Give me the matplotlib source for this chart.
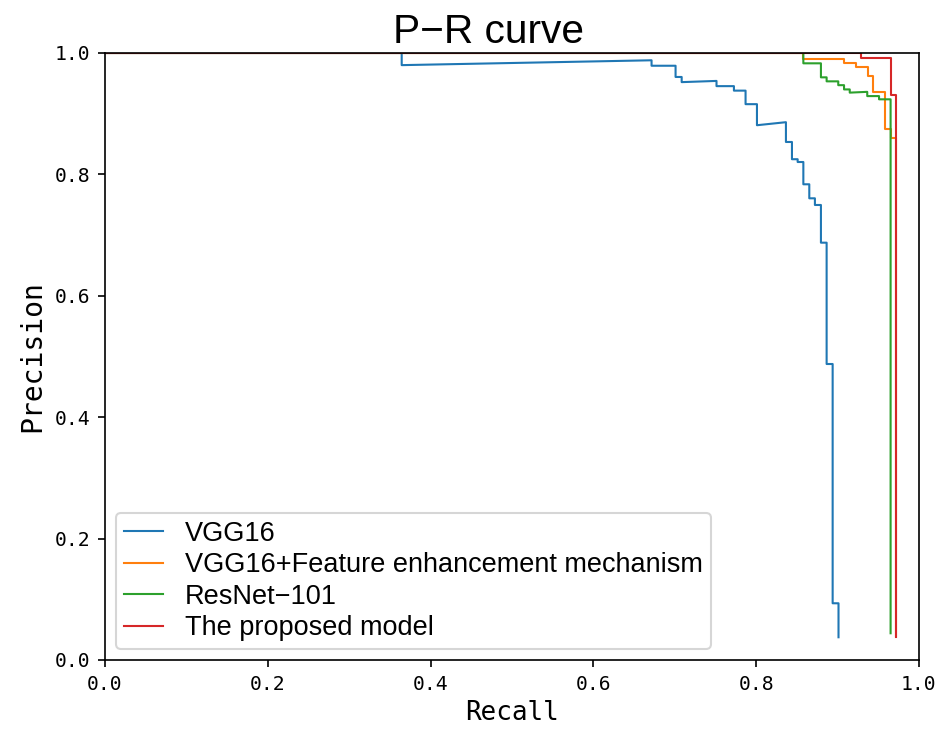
import matplotlib
matplotlib.use("Agg")
import matplotlib.pyplot as plt

# P-R curve points (recall, precision)
vgg_recall = [0.0, 0.3645, 0.3645, 0.6715, 0.6715, 0.701, 0.701, 0.7085, 0.7085,
              0.7513, 0.7513, 0.7727, 0.7727, 0.787, 0.787, 0.801, 0.801, 0.8366,
              0.8366, 0.844, 0.844, 0.851, 0.851, 0.858, 0.858, 0.8653, 0.8653,
              0.8722, 0.8722, 0.8796, 0.8796, 0.8866, 0.8866, 0.894, 0.894, 0.9012, 0.9012]
vgg_precision = [1.0, 1.0, 0.980, 0.988, 0.979, 0.979, 0.9605, 0.9605, 0.952,
                 0.954, 0.9454, 0.9454, 0.938, 0.938, 0.9157, 0.9157, 0.881, 0.886,
                 0.8534, 0.8534, 0.825, 0.825, 0.8204, 0.8204, 0.7837, 0.7837, 0.7606,
                 0.7606, 0.7496, 0.7496, 0.6875, 0.6875, 0.4876, 0.4876, 0.0934, 0.0934, 0.0374]

fem_recall = [0.0, 0.858, 0.858, 0.9079, 0.9079, 0.9226, 0.9226, 0.9369, 0.9369,
              0.9439, 0.9439, 0.9586, 0.9586, 0.9652, 0.9652, 0.972, 0.972]
fem_precision = [1.0, 1.0, 0.9907, 0.9907, 0.983, 0.983, 0.9764, 0.9764, 0.9626,
                 0.9626, 0.9352, 0.9352, 0.8748, 0.8748, 0.8594, 0.8594, 0.04]

res_recall = [0.0, 0.858, 0.858, 0.8796, 0.8796, 0.8866, 0.8866, 0.9009, 0.9009,
              0.908, 0.908, 0.915, 0.915, 0.9365, 0.9365, 0.951, 0.951, 0.9652, 0.9652]
res_precision = [1.0, 1.0, 0.983, 0.983, 0.9599, 0.9599, 0.9533, 0.9533, 0.947,
                 0.947, 0.940, 0.940, 0.9347, 0.936, 0.929, 0.929, 0.9237, 0.9237, 0.044]

ours_recall = [0.0, 0.9294, 0.9294, 0.9652, 0.9652, 0.972, 0.972]
ours_precision = [1.0, 1.0, 0.9913, 0.9913, 0.9308, 0.9308, 0.0384]

LABELS = ['VGG16', 'VGG16+Feature enhancement mechanism', 'ResNet\u2212101', 'The proposed model']

mono = 'DejaVu Sans Mono'
sans = 'Liberation Sans'

fig = plt.figure(figsize=(6.28, 4.86), dpi=150)
ax = fig.add_axes([0.1115, 0.0947, 0.864, 0.8326])

ax.plot(vgg_recall, vgg_precision, color='#1f77b4', lw=1.0, label=LABELS[0])
ax.plot(fem_recall, fem_precision, color='#ff7f0e', lw=1.0, label=LABELS[1])
ax.plot(res_recall, res_precision, color='#2ca02c', lw=1.0, label=LABELS[2])
ax.plot(ours_recall, ours_precision, color='#d62728', lw=1.0, label=LABELS[3])

ax.set_xlim(0, 1)
ax.set_ylim(0, 1)
ax.set_xticks([0, 0.2, 0.4, 0.6, 0.8, 1.0])
ax.set_yticks([0, 0.2, 0.4, 0.6, 0.8, 1.0])
ax.set_xticklabels(['0.0', '0.2', '0.4', '0.6', '0.8', '1.0'], family=mono, fontsize=9.5)
ax.set_yticklabels(['0.0', '0.2', '0.4', '0.6', '0.8', '1.0'], family=mono, fontsize=9.5)

ax.set_xlabel('Recall', family=mono, fontsize=12.5, labelpad=3)
ax.set_ylabel('Precision', family=mono, fontsize=13.5, labelpad=4)

# title sits a little left of the axes centre in the original
fig.text(0.519, 0.941, 'P\u2212R curve', family=sans, fontsize=19.5,
         ha='center', va='baseline')

ax.legend(loc='lower left', prop={'family': sans, 'size': 13},
          handlelength=1.45, handletextpad=0.8, borderaxespad=0.4,
          labelspacing=0.2, borderpad=0.3)

fig.savefig('out.png', dpi=150)
